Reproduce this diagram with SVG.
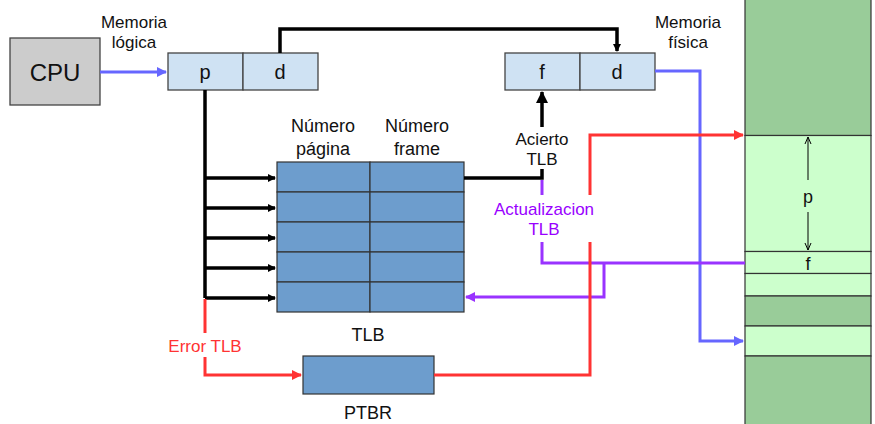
<svg xmlns="http://www.w3.org/2000/svg" width="875" height="424" viewBox="0 0 875 424">
<style>
text{font-family:"Liberation Sans",Arial,sans-serif;text-anchor:middle;fill:#111}
.lbl{font-size:17px}
.hdr{font-size:18px}
.big{font-size:20px}
.box{stroke:#444;stroke-width:1.3}
.addr{fill:#cfe2f3}
.tlb{fill:#6d9dcd;stroke:#333;stroke-width:1.2}
.mem{stroke:#333;stroke-width:1.2}
.dk{fill:#99cc99}
.lt{fill:#ccffcc}
.blk{fill:none;stroke:#000;stroke-width:3.5}
.blu{fill:none;stroke:#6666ff;stroke-width:3}
.red{fill:none;stroke:#ff3333;stroke-width:3}
.pur{fill:none;stroke:#9933ff;stroke-width:3}
</style>
<defs>
<marker id="ab" markerWidth="8" markerHeight="8" refX="7" refY="4" orient="auto" markerUnits="userSpaceOnUse" viewBox="0 0 8 8"><path d="M0,0 L8,4 L0,8 z" fill="#000"/></marker>
<marker id="abl" markerWidth="10" markerHeight="10" refX="9" refY="5" orient="auto" markerUnits="userSpaceOnUse" viewBox="0 0 10 10"><path d="M0,0 L10,5 L0,10 z" fill="#6666ff"/></marker>
<marker id="ar" markerWidth="10" markerHeight="10" refX="9" refY="5" orient="auto" markerUnits="userSpaceOnUse" viewBox="0 0 10 10"><path d="M0,0 L10,5 L0,10 z" fill="#ff3333"/></marker>
<marker id="ap" markerWidth="10" markerHeight="10" refX="9" refY="5" orient="auto" markerUnits="userSpaceOnUse" viewBox="0 0 10 10"><path d="M0,0 L10,5 L0,10 z" fill="#9933ff"/></marker>
<marker id="ak" markerWidth="12" markerHeight="12" refX="11" refY="6" orient="auto" markerUnits="userSpaceOnUse" viewBox="0 0 12 12"><path d="M0,0 L12,6 L0,12 z" fill="#000"/></marker>
<marker id="ao" markerWidth="8" markerHeight="8" refX="7" refY="4" orient="auto" markerUnits="userSpaceOnUse" viewBox="0 0 8 8"><path d="M0,1 L7,4 L0,7" fill="none" stroke="#000" stroke-width="1"/></marker>
</defs>

<g id="memory">
<rect class="mem dk" x="745" y="-2" width="126" height="137.5"/>
<rect class="mem lt" x="745" y="135.5" width="126" height="116"/>
<rect class="mem lt" x="745" y="251.5" width="126" height="22"/>
<rect class="mem lt" x="745" y="273.5" width="126" height="22.5"/>
<rect class="mem dk" x="745" y="296" width="126" height="30"/>
<rect class="mem lt" x="745" y="326" width="126" height="30"/>
<rect class="mem dk" x="745" y="356" width="126" height="70"/>
<line x1="808" y1="180" x2="808" y2="137" stroke="#000" stroke-width="1" marker-end="url(#ao)"/>
<line x1="808" y1="212" x2="808" y2="250" stroke="#000" stroke-width="1" marker-end="url(#ao)"/>
<text class="hdr" x="808" y="203">p</text>
<text class="hdr" x="808" y="270">f</text>
</g>

<g id="cpu">
<rect x="10" y="38" width="90" height="67" fill="#cccccc" stroke="#444" stroke-width="1.3"/>
<text x="55" y="81" font-size="24">CPU</text>
</g>

<g id="logical">
<rect class="box addr" x="168" y="53" width="75" height="37"/>
<rect class="box addr" x="243" y="53" width="75" height="37"/>
<text class="big" x="205" y="79">p</text>
<text class="big" x="280" y="79">d</text>
<text class="lbl" x="134" y="28">Memoria</text>
<text class="lbl" x="134" y="48">lógica</text>
</g>

<g id="physical">
<rect class="box addr" x="505" y="53" width="75" height="37"/>
<rect class="box addr" x="580" y="53" width="75" height="37"/>
<text class="big" x="542" y="79">f</text>
<text class="big" x="617" y="79">d</text>
<text class="lbl" x="688" y="28">Memoria</text>
<text class="lbl" x="688" y="48">física</text>
</g>

<g id="tlb">
<rect class="tlb" x="277" y="162" width="93" height="30"/>
<rect class="tlb" x="370" y="162" width="94" height="30"/>
<rect class="tlb" x="277" y="192" width="93" height="30"/>
<rect class="tlb" x="370" y="192" width="94" height="30"/>
<rect class="tlb" x="277" y="222" width="93" height="30"/>
<rect class="tlb" x="370" y="222" width="94" height="30"/>
<rect class="tlb" x="277" y="252" width="93" height="30"/>
<rect class="tlb" x="370" y="252" width="94" height="30"/>
<rect class="tlb" x="277" y="282" width="93" height="30"/>
<rect class="tlb" x="370" y="282" width="94" height="30"/>
<text class="hdr" x="323" y="132">Número</text>
<text class="hdr" x="323" y="155">página</text>
<text class="hdr" x="417" y="132">Número</text>
<text class="hdr" x="417" y="155">frame</text>
<text class="hdr" x="368" y="341">TLB</text>
</g>

<g id="ptbr">
<rect class="tlb" x="303" y="356" width="131" height="38"/>
<text class="hdr" x="368" y="419">PTBR</text>
</g>

<g id="connectors">
<path class="blu" d="M100,72 H166" marker-end="url(#abl)"/>
<path class="blu" d="M655,71 H700 V341 H743" marker-end="url(#abl)"/>
<path class="blk" d="M280,53 V29 H617 V51" marker-end="url(#ab)"/>
<path class="blk" d="M205,90 V298"/>
<path class="blk" d="M205,178 H275" marker-end="url(#ab)"/>
<path class="blk" d="M205,208 H275" marker-end="url(#ab)"/>
<path class="blk" d="M205,238 H275" marker-end="url(#ab)"/>
<path class="blk" d="M205,268 H275" marker-end="url(#ab)"/>
<path class="blk" d="M205,298 H275" marker-end="url(#ab)"/>
<path class="blk" d="M464,178 H542 V169"/>
<path class="blk" d="M542,127 V92" marker-end="url(#ak)"/>
<text class="lbl" x="542" y="145">Acierto</text>
<text class="lbl" x="542" y="165">TLB</text>
<path class="pur" d="M542,180 V195"/>
<path class="pur" d="M542,242 V263 H745"/>
<path class="pur" d="M604,263 V297 H466" marker-end="url(#ap)"/>
<text class="lbl" x="544" y="215" style="fill:#9900ff">Actualizacion</text>
<text class="lbl" x="544" y="235" style="fill:#9900ff">TLB</text>
<path class="red" d="M590,195 V135 H743" marker-end="url(#ar)"/>
<path class="red" d="M590,242 V375 H434"/>
<path class="red" d="M205,299 V333"/>
<path class="red" d="M205,357 V375 H301" marker-end="url(#ar)"/>
<text class="lbl" x="205" y="352" style="fill:#ff3333">Error TLB</text>
</g>
</svg>
